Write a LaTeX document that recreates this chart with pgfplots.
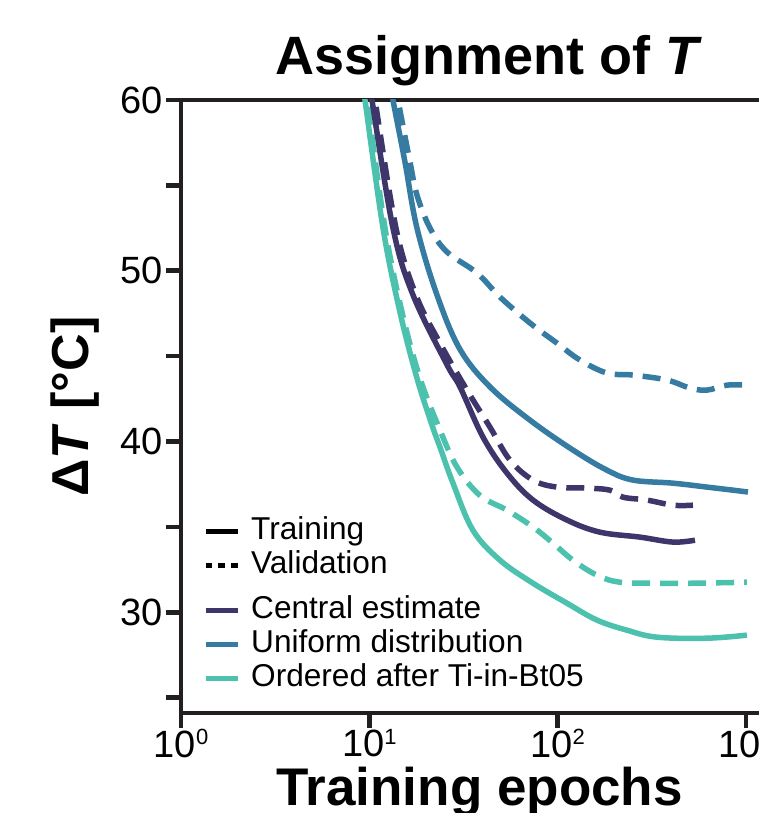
\documentclass[border=0pt]{standalone}
\usepackage{fontspec}
\setmainfont{Liberation Sans}
\usepackage{pgfplots}
\pgfplotsset{compat=1.18}

\definecolor{centralC}{RGB}{62,53,107}
\definecolor{uniformC}{RGB}{53,123,162}
\definecolor{orderedC}{RGB}{76,193,173}
\definecolor{axisC}{RGB}{35,31,32}

\newcommand\pw[1]{10\raisebox{0.33em}{\fontsize{22}{22}\selectfont #1}}

\begin{document}
\begin{tikzpicture}
\begin{axis}[
  at={(0pt,0pt)}, anchor=south west,
  width=604pt, height=613pt, scale only axis,
  xmode=log, xmin=1, xmax=1614, ymin=24.1, ymax=60,
  axis line style={line width=4.5pt, color=axisC},
  xtick={1,10,100,1000}, xticklabels={\pw{0},\pw{1},\pw{2},\pw{3}},
  xminorticks=false,
  ytick={30,40,50,60}, yticklabels={30,40,50,60},
  minor ytick={25,35,45,55},
  tick align=outside, xtick pos=left, ytick pos=left,
  major tick length=15pt, minor tick length=15pt,
  tick style={line width=4.5pt, color=axisC},
  ticklabel style={font=\fontsize{38}{40}\selectfont},
  xticklabel style={inner sep=1pt},
  title={\bfseries Assignment of \textit{T}},
  title style={font=\fontsize{54}{58}\selectfont, at={(axis description cs:0.5099,1.0326)}, anchor=base},
  xlabel={\bfseries Training epochs},
  xlabel style={font=\fontsize{53}{56}\selectfont, at={(axis description cs:0.4942,-0.1501)}, anchor=base},
  ylabel={\bfseries Δ\textit{T} [°C]},
  ylabel style={font=\fontsize{52}{56}\selectfont, at={(axis description cs:-0.1755,0.5)}, anchor=center},
  legend style={draw=none, fill=none, at={(axis description cs:0.0364,0.0277)}, anchor=south west,
    inner sep=0pt, row sep=0pt, column sep=10pt,
    font=\fontsize{31.6}{34}\selectfont,
    nodes={inner sep=1pt, text height=24pt, text depth=8pt}},
  legend cell align=left,
  legend image code/.code={\draw[#1] (0pt,0pt) -- (32pt,0pt);},
  every axis plot/.append style={line width=5.5pt, line join=round, smooth, tension=0.6},
]
% Ordered after Ti-in-Bt05, training
\addplot[forget plot, orderedC] coordinates {
(9.15,61.17) (9.49,60.0) (11.83,52.50) (14.55,47.58) (17.92,43.71) (21.53,40.96)
(23.74,39.67) (27.83,37.56) (35.54,34.80) (49.44,33.05) (74.05,31.70) (112.2,30.53)
(161.9,29.54) (233.7,28.95) (337.3,28.54) (621.6,28.48) (1013,28.66)};
% Ordered after Ti-in-Bt05, validation
\addplot[forget plot, orderedC, dash pattern=on 18pt off 10pt] coordinates {
(9.37,61.17) (9.72,60.0) (12.12,52.50) (14.92,47.58) (18.59,43.71) (23.74,40.67)
(29.23,38.50) (38.71,36.84) (53.86,35.98) (74.05,34.99) (94.5,34.05) (120.7,33.05)
(161.9,32.17) (214.5,31.76) (337.3,31.70) (523.7,31.70) (1013,31.76)};
% Central estimate, training
\addplot[forget plot, centralC] coordinates {
(9.96,61.17) (10.33,60.0) (13.36,52.50) (17.07,48.58) (25.86,44.50) (30.32,43.20)
(40.16,40.26) (53.86,38.15) (74.05,36.57) (112.2,35.40) (168.0,34.69) (273.9,34.40)
(410.1,34.11) (536.7,34.22)};
% Central estimate, validation
\addplot[forget plot, centralC, dash pattern=on 18pt off 10pt] coordinates {
(10.33,61.17) (10.72,60.0) (13.86,52.50) (17.70,48.58) (23.74,45.76) (33.03,43.01)
(43.75,40.84) (55.87,38.91) (74.05,37.74) (99.3,37.33) (143.3,37.27) (189.8,37.15)
(222.5,36.74) (298.5,36.57) (410.1,36.27) (523.7,36.27)};
% Uniform distribution, training
\addplot[forget plot, uniformC] coordinates {
(12.88,61.17) (13.36,60.0) (15.47,56.37) (17.92,52.50) (22.89,48.58) (30.32,45.40)
(43.75,43.20) (71.37,41.25) (120.7,39.50) (183.0,38.32) (251.4,37.74) (410.1,37.56)
(621.6,37.33) (854,37.15) (1026,37.04)};
% Uniform distribution, validation
\addplot[forget plot, uniformC, dash pattern=on 18pt off 10pt] coordinates {
(13.69,61.17) (14.21,60.0) (16.45,56.37) (17.92,54.43) (21.01,52.50) (25.86,51.10)
(37.33,49.87) (49.44,48.46) (71.37,46.94) (99.3,45.76) (131.5,44.77) (183.0,44.01)
(251.4,43.89) (381.0,43.60) (505,43.13) (621.6,43.01) (793.5,43.30) (1026,43.30)};

\addlegendimage{black, line width=5pt}
\addlegendentry{Training}
\addlegendimage{black, line width=5pt, dash pattern=on 6.5pt off 6.25pt}
\addlegendentry{Validation}
\addlegendimage{legend image code/.code={\path[draw=none] (0pt,0pt) -- (0pt,28pt); \draw[centralC, line width=5pt] (0pt,0pt) -- (32pt,0pt);}}
\addlegendentry{Central estimate}
\addlegendimage{uniformC, line width=5pt}
\addlegendentry{Uniform distribution}
\addlegendimage{orderedC, line width=5pt}
\addlegendentry{Ordered after Ti-in-Bt05}
\end{axis}
\pgfresetboundingbox
\path[use as bounding box] (-181pt,-100pt) rectangle (577pt,713pt);
\end{tikzpicture}
\end{document}
